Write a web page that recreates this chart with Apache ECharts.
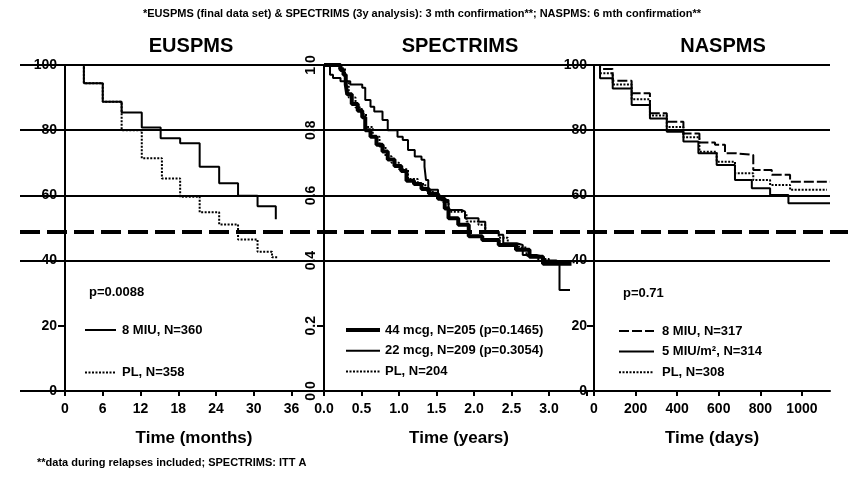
<!DOCTYPE html>
<html><head><meta charset="utf-8">
<script src="https://cdn.jsdelivr.net/npm/echarts@6/dist/echarts.min.js"></script>
<style>html,body{margin:0;padding:0;background:#fff}#c{width:848px;height:483px}</style>
</head><body><div id="c"></div>
<script>
const FONT = '"Liberation Sans", Arial, Helvetica, sans-serif';

// ---- EUSPMS (months, % progression-free) ----
const euT_MIU = [0, 3, 6, 9, 12.2, 15.2, 18.3, 21.4, 24.5, 27.5, 30.6, 33.5];
const euV_MIU = [100, 94.4, 88.7, 85.4, 80.8, 77.5, 76.0, 68.8, 63.7, 59.9, 56.7, 52.7];
const euT_PL  = [0, 3, 6, 9, 12.2, 15.4, 18.3, 21.4, 24.5, 27.5, 30.6, 32.9, 33.8];
const euV_PL  = [100, 94.4, 88.7, 80.0, 71.4, 65.2, 59.6, 54.8, 51.1, 46.5, 42.7, 41.0, 41.0];

// ---- SPECTRIMS (years, proportion progression-free) ----
const spT_44 = [0, 0.15, 0.22, 0.26, 0.29, 0.31, 0.37, 0.45, 0.51, 0.55, 0.62, 0.70, 0.78, 0.85, 0.94, 1.03, 1.10, 1.20, 1.30, 1.40, 1.52, 1.61, 1.66, 1.79, 1.93, 2.11, 2.33, 2.56, 2.74, 2.92, 3.05, 3.30];
const spV_44 = [1, 1.0, 0.985, 0.97, 0.94, 0.91, 0.88, 0.86, 0.84, 0.80, 0.78, 0.755, 0.735, 0.71, 0.69, 0.675, 0.645, 0.635, 0.62, 0.605, 0.59, 0.56, 0.53, 0.51, 0.475, 0.463, 0.448, 0.433, 0.412, 0.39, 0.39, 0.39];
const spT_22 = [0, 0.08, 0.12, 0.22, 0.35, 0.51, 0.55, 0.62, 0.67, 0.78, 0.85, 0.98, 1.05, 1.12, 1.21, 1.30, 1.34, 1.36, 1.39, 1.52, 1.57, 1.66, 1.84, 1.88, 2.06, 2.15, 2.33, 2.39, 2.57, 2.65, 2.83, 2.92, 3.10, 3.14, 3.14, 3.28];
const spV_22 = [1, 0.97, 0.96, 0.95, 0.94, 0.93, 0.893, 0.872, 0.857, 0.831, 0.80, 0.78, 0.77, 0.739, 0.719, 0.709, 0.688, 0.647, 0.617, 0.596, 0.586, 0.555, 0.55, 0.53, 0.519, 0.489, 0.479, 0.453, 0.448, 0.417, 0.412, 0.40, 0.397, 0.371, 0.31, 0.31];
const spT_PL = [0, 0.10, 0.20, 0.28, 0.33, 0.42, 0.50, 0.56, 0.65, 0.74, 0.82, 0.90, 1.00, 1.12, 1.25, 1.35, 1.45, 1.57, 1.66, 1.84, 1.90, 2.06, 2.15, 2.33, 2.45, 2.60, 2.70, 2.85, 3.00, 3.40];
const spV_PL = [1, 1.0, 0.99, 0.95, 0.90, 0.87, 0.85, 0.81, 0.78, 0.75, 0.72, 0.70, 0.68, 0.65, 0.635, 0.615, 0.60, 0.58, 0.55, 0.545, 0.52, 0.51, 0.485, 0.47, 0.45, 0.44, 0.415, 0.405, 0.395, 0.395];

// ---- NASPMS (days, % progression-free) ----
const naT_8  = [0, 29, 90, 181, 269, 350, 430, 507, 582, 630, 686, 766, 855, 943, 1135];
const naV_8  = [100, 98.8, 95.2, 91.3, 85.2, 82.6, 79.0, 76.2, 75.5, 72.9, 72.4, 67.8, 66.3, 64.2, 64.2];
const naT_5  = [0, 29, 90, 181, 269, 350, 430, 502, 590, 678, 759, 847, 935, 1135];
const naV_5  = [100, 95.9, 92.8, 87.7, 83.6, 79.5, 76.5, 72.9, 69.3, 64.7, 62.2, 60.1, 57.6, 57.6];
const naT_PL = [0, 29, 90, 181, 269, 350, 430, 507, 590, 678, 766, 847, 943, 1120];
const naV_PL = [100, 97.5, 94.0, 89.5, 84.5, 81.0, 77.8, 73.4, 70.3, 66.8, 64.7, 63.2, 61.7, 61.7];

// reference lines
const refLines = [0, 40, 60, 80, 100];
const medianLine = 49;

const zip = (t, v) => t.map((x, i) => [x, v[i]]);

const chart = echarts.init(document.getElementById('c'), null, {renderer: 'canvas'});

const TOP = 65, BOTTOM = 92;
const axisLbl = {fontFamily: FONT, fontWeight: 'bold', fontSize: 14, color: '#000'};
const nameTxt = {fontFamily: FONT, fontWeight: 'bold', fontSize: 17, color: '#000'};
const blackAxis = {show: true, lineStyle: {color: '#000', width: 2}};
const tick = {show: true, length: 5, lineStyle: {color: '#000', width: 2}};

function xAx(idx, min, max, interval, name, fmt) {
  return {gridIndex: idx, type: 'value', min, max, interval, name, nameLocation: 'middle', nameGap: 39,
    nameTextStyle: nameTxt, axisLine: blackAxis, axisTick: tick, splitLine: {show: false},
    axisLabel: Object.assign({margin: 11, showMaxLabel: false, formatter: fmt}, axisLbl)};
}
function yAx(idx, min, max, interval, opts) {
  return Object.assign({gridIndex: idx, type: 'value', min, max, interval,
    axisLine: blackAxis, axisTick: {show: true, length: 7, lineStyle: {color: '#000', width: 2}}, splitLine: {show: false},
    axisLabel: Object.assign({margin: 8}, axisLbl)}, opts || {});
}
const legTxt = pad => ({fontFamily: FONT, fontWeight: 'bold', fontSize: 13, color: '#000', padding: [0, 0, 0, pad]});

const thin = {color: '#000', width: 2};
const option = {
  animation: false,
  backgroundColor: '#fff',
  grid: [
    {left: 65, right: 848 - 323, top: TOP, bottom: BOTTOM},
    {left: 324, right: 848 - 594, top: TOP, bottom: BOTTOM},
    {left: 594, right: 848 - 830, top: TOP, bottom: BOTTOM},
    {left: 20, right: 848 - 830, top: TOP, bottom: BOTTOM},
    {left: 20, right: 0, top: TOP, bottom: BOTTOM}
  ],
  xAxis: [
    xAx(0, 0, 41, 6, 'Time (months)', v => String(v)),
    xAx(1, 0, 3.6, 0.5, 'Time (years)', v => v > 3.2 ? '' : v.toFixed(1)),
    xAx(2, 0, 1135, 200, 'Time (days)', v => String(v)),
    {gridIndex: 3, type: 'value', min: 0, max: 1, show: false},
    {gridIndex: 4, type: 'value', min: 0, max: 1, show: false}
  ],
  yAxis: [
    yAx(0, 0, 100, 20),
    yAx(1, 0, 1, 0.2, {axisLabel: Object.assign({margin: 6, rotate: 90, formatter: v => v.toFixed(1)}, axisLbl)}),
    yAx(2, 0, 100, 20, {axisLabel: Object.assign({margin: 7}, axisLbl)}),
    {gridIndex: 3, type: 'value', min: 0, max: 100, show: false},
    {gridIndex: 4, type: 'value', min: 0, max: 100, show: false}
  ],
  legend: [
    {data: ['8 MIU, N=360', 'PL, N=358'], orient: 'vertical', left: 79, top: 318.5, itemGap: 29.6,
      itemWidth: 31, itemHeight: 14, selectedMode: false, itemStyle: {opacity: 0}, textStyle: legTxt(1)},
    {data: [{name: '44 mcg, N=205 (p=0.1465)', lineStyle: {width: 4}}, '22 mcg, N=209 (p=0.3054)', 'PL, N=204'], orient: 'vertical', left: 339, top: 318.5, itemGap: 7.8,
      itemWidth: 34, itemHeight: 14, selectedMode: false, itemStyle: {opacity: 0}, textStyle: legTxt(0)},
    {data: ['8 MIU, N=317', '5 MIU/m², N=314', 'PL, N=308'], orient: 'vertical', left: 613, top: 319.5, itemGap: 7.6,
      itemWidth: 35, itemHeight: 14, selectedMode: false, itemStyle: {opacity: 0}, textStyle: legTxt(3)}
  ],
  graphic: [
    {type: 'text', x: 422, y: 14, style: {text: '*EUSPMS (final data set) & SPECTRIMS (3y analysis): 3 mth confirmation**; NASPMS: 6 mth confirmation**', font: 'bold 11px ' + FONT, fill: '#000', align: 'center', verticalAlign: 'middle'}},
    {type: 'text', x: 191, y: 46, style: {text: 'EUSPMS', font: 'bold 20px ' + FONT, fill: '#000', align: 'center', verticalAlign: 'middle'}},
    {type: 'text', x: 460, y: 46, style: {text: 'SPECTRIMS', font: 'bold 20px ' + FONT, fill: '#000', align: 'center', verticalAlign: 'middle'}},
    {type: 'text', x: 723, y: 46, style: {text: 'NASPMS', font: 'bold 20px ' + FONT, fill: '#000', align: 'center', verticalAlign: 'middle'}},
    {type: 'text', x: 89, y: 292, style: {text: 'p=0.0088', font: 'bold 13px ' + FONT, fill: '#000', align: 'left', verticalAlign: 'middle'}},
    {type: 'text', x: 623, y: 293, style: {text: 'p=0.71', font: 'bold 13px ' + FONT, fill: '#000', align: 'left', verticalAlign: 'middle'}},
    {type: 'text', x: 37, y: 463, style: {text: '**data during relapses included; SPECTRIMS: ITT A', font: 'bold 11px ' + FONT, fill: '#000', align: 'left', verticalAlign: 'middle'}}
  ],
  series: [
    {type: 'line', xAxisIndex: 3, yAxisIndex: 3, data: [], z: 1, silent: true,
      markLine: {silent: true, symbol: 'none', label: {show: false},
        lineStyle: {color: '#000', width: 2, type: 'solid'},
        data: refLines.map(v => ({yAxis: v}))}},
    {type: 'line', xAxisIndex: 4, yAxisIndex: 4, data: [], z: 1, silent: true,
      markLine: {silent: true, symbol: 'none', label: {show: false},
        lineStyle: {color: '#000', width: 4, type: [20, 7]},
        data: [{yAxis: medianLine}]}},
    {name: '8 MIU, N=360', type: 'line', xAxisIndex: 0, yAxisIndex: 0, step: 'end', symbol: 'none', z: 3,
      lineStyle: thin, itemStyle: {color: '#000'}, data: zip(euT_MIU, euV_MIU)},
    {name: 'PL, N=358', type: 'line', xAxisIndex: 0, yAxisIndex: 0, step: 'end', symbol: 'none', z: 3,
      lineStyle: {color: '#000', width: 2, type: [2, 1.5]}, itemStyle: {color: '#000'}, data: zip(euT_PL, euV_PL)},
    {name: '44 mcg, N=205 (p=0.1465)', type: 'line', xAxisIndex: 1, yAxisIndex: 1, step: 'end', symbol: 'none', z: 3,
      lineStyle: {color: '#000', width: 4}, itemStyle: {color: '#000'}, data: zip(spT_44, spV_44)},
    {name: '22 mcg, N=209 (p=0.3054)', type: 'line', xAxisIndex: 1, yAxisIndex: 1, step: 'end', symbol: 'none', z: 3,
      lineStyle: thin, itemStyle: {color: '#000'}, data: zip(spT_22, spV_22)},
    {name: 'PL, N=204', type: 'line', xAxisIndex: 1, yAxisIndex: 1, step: 'end', symbol: 'none', z: 3,
      lineStyle: {color: '#000', width: 2, type: [2, 1.5]}, itemStyle: {color: '#000'}, data: zip(spT_PL, spV_PL)},
    {name: '8 MIU, N=317', type: 'line', xAxisIndex: 2, yAxisIndex: 2, step: 'end', symbol: 'none', z: 3,
      lineStyle: {color: '#000', width: 2, type: [10, 3]}, itemStyle: {color: '#000'}, data: zip(naT_8, naV_8)},
    {name: '5 MIU/m², N=314', type: 'line', xAxisIndex: 2, yAxisIndex: 2, step: 'end', symbol: 'none', z: 3,
      lineStyle: thin, itemStyle: {color: '#000'}, data: zip(naT_5, naV_5)},
    {name: 'PL, N=308', type: 'line', xAxisIndex: 2, yAxisIndex: 2, step: 'end', symbol: 'none', z: 3,
      lineStyle: {color: '#000', width: 2, type: [2, 1.5]}, itemStyle: {color: '#000'}, data: zip(naT_PL, naV_PL)}
  ]
};
chart.setOption(option);
</script></body></html>
